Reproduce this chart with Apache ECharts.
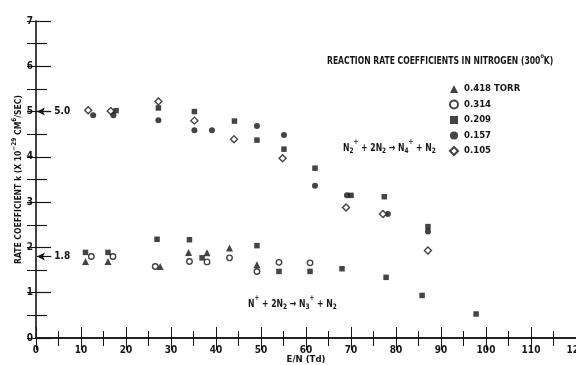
<!DOCTYPE html>
<html><head><meta charset="utf-8">
<script src="https://cdn.jsdelivr.net/npm/echarts@6/dist/echarts.min.js"></script>
<style>html,body{margin:0;padding:0;background:#fff}#c{width:576px;height:365px}</style>
</head><body><div id="c"></div>
<script>
// ---- data (x = E/N in Td, y = rate coefficient) ----
const seriesNames = ['0.418 TORR', '0.314', '0.209', '0.157', '0.105'];
const p0418 = [[11.0,1.69],[16.0,1.69],[27.6,1.58],[33.9,1.89],[38.0,1.88],[43.0,1.99],[49.1,1.62]];
const p0314 = [[12.3,1.80],[17.1,1.80],[26.5,1.58],[34.1,1.69],[38.0,1.68],[43.0,1.77],[49.1,1.47],[54.0,1.67],[60.9,1.66]];
const p0209 = [[17.8,5.02],[27.2,5.08],[35.2,5.00],[44.1,4.79],[49.1,4.37],[55.1,4.17],[62.0,3.75],[70.0,3.15],[77.4,3.12],[87.1,2.46],
               [11.0,1.89],[16.0,1.89],[26.9,2.18],[34.1,2.17],[36.9,1.77],[49.1,2.04],[54.0,1.47],[60.9,1.47],[68.0,1.53],[77.8,1.34],[85.8,0.94],[97.8,0.53]];
const p0157 = [[12.7,4.92],[17.2,4.92],[27.2,4.81],[35.2,4.59],[39.1,4.59],[49.1,4.68],[55.1,4.48],[62.0,3.36],[69.1,3.15],[78.2,2.74],[87.1,2.35]];
const p0105 = [[11.6,5.03],[16.6,5.01],[27.2,5.22],[35.2,4.80],[44.0,4.39],[54.8,3.97],[68.9,2.88],[77.1,2.74],[87.1,1.93]];
const xTicks = [0,10,20,30,40,50,60,70,80,90,100,110,120];
const yTicks = [0,1,2,3,4,5,6,7];
const refLevels = [5.0, 1.8];

const INK = '#151515';
const FONT = '"Liberation Sans Narrow","DejaVu Sans Condensed",Arial,sans-serif';

const chart = echarts.init(document.getElementById('c'), null, {renderer: 'canvas'});

const baseSeries = (name, data, symbol, size, filled) => ({
  name, type: 'scatter', data, symbol, symbolSize: size,
  itemStyle: filled ? {color: INK} : {color: '#fff', borderColor: INK, borderWidth: 1.4},
  emphasis: {disabled: true}, z: 3
});

const series = [
  baseSeries(seriesNames[0], p0418, 'triangle', 7, true),
  baseSeries(seriesNames[1], p0314, 'circle', 5.5, false),
  baseSeries(seriesNames[2], p0209, 'rect', 5.5, true),
  baseSeries(seriesNames[3], p0157, 'circle', 6, true),
  baseSeries(seriesNames[4], p0105, 'diamond', 7, false)
];
series[0].markLine = {
  silent: true, animation: false,
  symbol: ['arrow', 'none'], symbolSize: [6, 8],
  lineStyle: {color: INK, type: 'solid', width: 1.2},
  label: {show: true, position: 'end', distance: 3, color: INK, fontFamily: FONT, fontWeight: 'bold', fontSize: 10,
          formatter: p => p.data.lbl},
  data: refLevels.map(v => [{coord: [0.2, v], lbl: v.toFixed(1)}, {coord: [3.4, v], lbl: v.toFixed(1)}])
};

const rich = (size, subSize) => ({
  n: {fontFamily: FONT, fontWeight: 'bold', fontSize: size, fill: INK, color: INK, lineHeight: 16, padding: [4,0,0,0]},
  b: {fontFamily: FONT, fontWeight: 'bold', fontSize: subSize, fill: INK, color: INK, lineHeight: 16, verticalAlign: 'bottom', padding: [0,0,-1,0]},
  t: {fontFamily: FONT, fontWeight: 'bold', fontSize: subSize, fill: INK, color: INK, lineHeight: 16, verticalAlign: 'top'}
});

const option = {
  backgroundColor: '#fff',
  animation: false,
  grid: {left: 36, right: 0, top: 21, bottom: 27, containLabel: false, outerBoundsMode: 'none'},
  legend: {
    orient: 'vertical', left: 444, top: 79, itemWidth: 8, itemHeight: 8, itemGap: 5.5,
    data: seriesNames, selectedMode: false,
    textStyle: {color: INK, fontFamily: FONT, fontWeight: 'bold', fontSize: 9.5, padding: [0,0,0,1]}
  },
  xAxis: [{
    type: 'value', min: xTicks[0], max: xTicks[xTicks.length-1], interval: 10, position: 'bottom',
    axisLine: {lineStyle: {color: INK, width: 1.6}},
    axisTick: {inside: true, length: 11, lineStyle: {color: INK, width: 1}},
    minorTick: {show: true, splitNumber: 2, length: 7, lineStyle: {color: INK, width: 1}},
    splitLine: {show: false},
    axisLabel: {color: INK, fontFamily: FONT, fontWeight: 'bold', fontSize: 10, margin: 7, hideOverlap: false},
    name: 'E/N (Td)', nameLocation: 'middle', nameGap: 17, nameMoveOverlap: false,
    nameTextStyle: {color: INK, fontFamily: FONT, fontWeight: 'bold', fontSize: 9.5}
  }, {
    type: 'value', min: xTicks[0], max: xTicks[xTicks.length-1], interval: 10, position: 'top',
    axisLine: {lineStyle: {color: INK, width: 1.6}},
    axisTick: {inside: true, length: 12, lineStyle: {color: INK, width: 1}},
    minorTick: {show: true, splitNumber: 2, length: 8, lineStyle: {color: INK, width: 1}},
    splitLine: {show: false}, axisLabel: {show: false}
  }],
  yAxis: [{
    type: 'value', min: yTicks[0], max: yTicks[yTicks.length-1], interval: 1, position: 'left',
    axisLine: {lineStyle: {color: INK, width: 1.6}},
    axisTick: {inside: true, length: 15, lineStyle: {color: INK, width: 1.2}},
    minorTick: {show: true, splitNumber: 2, length: 11, lineStyle: {color: INK, width: 1.2}},
    splitLine: {show: false},
    axisLabel: {color: INK, fontFamily: FONT, fontWeight: 'bold', fontSize: 10, margin: 3},
    name: '{n|RATE COEFFICIENT k (X 10}{s|−29}{n| CM}{s|6}{n|/SEC)}',
    nameLocation: 'middle', nameGap: 13, nameRotate: 90, nameMoveOverlap: false,
    nameTextStyle: {color: INK, fontFamily: FONT, fontWeight: 'bold', fontSize: 9,
      rich: {
        n: {fontFamily: FONT, fontWeight: 'bold', fontSize: 8.5, color: INK, lineHeight: 12, verticalAlign: 'bottom'},
        s: {fontFamily: FONT, fontWeight: 'bold', fontSize: 6.5, color: INK, lineHeight: 12, verticalAlign: 'top'}
      }}
  }, {
    type: 'value', min: yTicks[0], max: yTicks[yTicks.length-1], interval: 0.5, position: 'right',
    axisLine: {show: false},
    axisTick: {inside: true, length: 9, lineStyle: {color: INK, width: 1}},
    splitLine: {show: false}, axisLabel: {show: false}
  }],
  graphic: [
    {type: 'text', left: 327, top: 53, scaleX: 0.85, silent: true, style: {
      text: '{n|REACTION RATE COEFFICIENTS IN NITROGEN (300}{s|o}{n|K)}',
      rich: {
        n: {fontFamily: FONT, fontWeight: 'bold', fontSize: 10, fill: INK, lineHeight: 13, verticalAlign: 'bottom'},
        s: {fontFamily: FONT, fontWeight: 'bold', fontSize: 6.5, fill: INK, lineHeight: 13, verticalAlign: 'top'}
      }}},
    {type: 'text', left: 343, top: 138, scaleX: 0.86, silent: true, style: {
      text: '{n|N}{b|2}{t|+}{n| + 2N}{b|2}{n| → N}{b|4}{t|+}{n| + N}{b|2}', rich: rich(10, 7.5)}},
    {type: 'text', left: 248, top: 294, scaleX: 0.86, silent: true, style: {
      text: '{n|N}{t|+}{n| + 2N}{b|2}{n| → N}{b|3}{t|+}{n| + N}{b|2}', rich: rich(10, 7.5)}}
  ],
  series
};
chart.setOption(option);
</script>
</body></html>
